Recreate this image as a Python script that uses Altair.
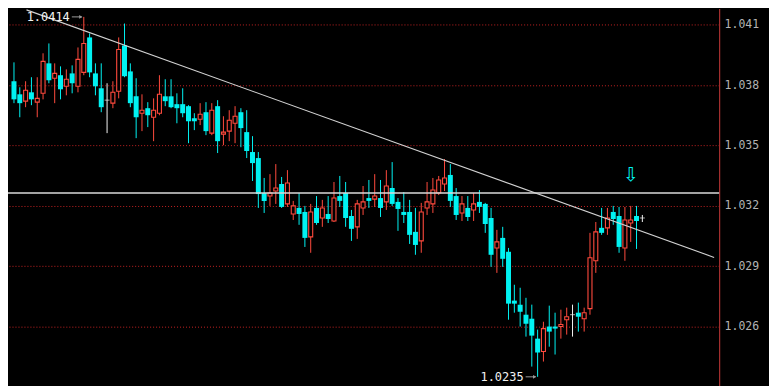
import altair as alt
import pandas as pd

# ---- candle data ----
opens = [1.03820, 1.03755, 1.03721, 1.03765, 1.03716, 1.03760, 1.03909, 1.03835, 1.03850, 1.03795,
         1.03859, 1.03795, 1.03864, 1.04038, 1.03859, 1.03785, 1.03726, 1.03711, 1.03770, 1.03998,
         1.03869, 1.03745, 1.03661, 1.03686, 1.03641, 1.03661, 1.03745, 1.03745, 1.03706, 1.03706,
         1.03696, 1.03636, 1.03631, 1.03666, 1.03562, 1.03696, 1.03557, 1.03572, 1.03611, 1.03666,
         1.03567, 1.03468, 1.03438, 1.03264, 1.03249, 1.03274, 1.03309, 1.03210, 1.03160, 1.03190,
         1.03170, 1.03046, 1.03190, 1.03140, 1.03160, 1.03125, 1.03249, 1.03264, 1.03150, 1.03096,
         1.03190, 1.03239, 1.03234, 1.03239, 1.03220, 1.03289, 1.03220, 1.03170, 1.03170, 1.03071,
         1.03026, 1.03190, 1.03210, 1.03264, 1.03309, 1.03354, 1.03249, 1.03165, 1.03190, 1.03180,
         1.03220, 1.03210, 1.03140, 1.02991, 1.03041, 1.02972, 1.02729, 1.02709, 1.02659, 1.02639,
         1.02540, 1.02476, 1.02600, 1.02600, 1.02600, 1.02634, 1.02659, 1.02669, 1.02639, 1.02689,
         1.02927, 1.03091, 1.03091, 1.03170, 1.03150, 1.02991, 1.03115, 1.03150, 1.03140]
highs = [1.03914, 1.03790, 1.03820, 1.03840, 1.03840, 1.03959, 1.04008, 1.03909, 1.03894, 1.03879,
         1.03899, 1.03988, 1.04140, 1.04058, 1.03909, 1.03909, 1.03810, 1.03820, 1.04038, 1.04107,
         1.03909, 1.03835, 1.03755, 1.03716, 1.03735, 1.03850, 1.03830, 1.03830, 1.03760, 1.03785,
         1.03701, 1.03661, 1.03711, 1.03716, 1.03711, 1.03726, 1.03646, 1.03676, 1.03696, 1.03686,
         1.03676, 1.03547, 1.03468, 1.03339, 1.03358, 1.03408, 1.03344, 1.03378, 1.03225, 1.03264,
         1.03200, 1.03210, 1.03249, 1.03230, 1.03249, 1.03319, 1.03349, 1.03319, 1.03180, 1.03230,
         1.03299, 1.03329, 1.03358, 1.03329, 1.03378, 1.03418, 1.03239, 1.03269, 1.03230, 1.03190,
         1.03215, 1.03319, 1.03339, 1.03349, 1.03433, 1.03408, 1.03289, 1.03249, 1.03249, 1.03264,
         1.03279, 1.03215, 1.03190, 1.03081, 1.03096, 1.02991, 1.02808, 1.02793, 1.02743, 1.02709,
         1.02585, 1.02624, 1.02704, 1.02669, 1.02684, 1.02694, 1.02709, 1.02719, 1.02694, 1.03066,
         1.03120, 1.03190, 1.03190, 1.03200, 1.03195, 1.03195, 1.03200, 1.03200, 1.03155]
lows = [1.03711, 1.03641, 1.03691, 1.03701, 1.03641, 1.03730, 1.03810, 1.03711, 1.03730, 1.03750,
        1.03760, 1.03765, 1.03850, 1.03840, 1.03750, 1.03666, 1.03562, 1.03686, 1.03735, 1.03840,
        1.03691, 1.03537, 1.03572, 1.03592, 1.03522, 1.03651, 1.03696, 1.03686, 1.03611, 1.03641,
        1.03512, 1.03577, 1.03602, 1.03552, 1.03552, 1.03463, 1.03502, 1.03522, 1.03512, 1.03492,
        1.03438, 1.03324, 1.03190, 1.03165, 1.03200, 1.03210, 1.03190, 1.03195, 1.03130, 1.03106,
        1.02996, 1.02967, 1.03106, 1.03096, 1.03115, 1.03120, 1.03195, 1.03096, 1.03026, 1.03036,
        1.03155, 1.03190, 1.03195, 1.03145, 1.03180, 1.03200, 1.03076, 1.03115, 1.03011, 1.02957,
        1.02967, 1.03155, 1.03165, 1.03254, 1.03274, 1.03195, 1.03130, 1.03125, 1.03125, 1.03125,
        1.03165, 1.03066, 1.02897, 1.02867, 1.02897, 1.02634, 1.02669, 1.02600, 1.02550, 1.02401,
        1.02350, 1.02426, 1.02500, 1.02461, 1.02540, 1.02560, 1.02550, 1.02575, 1.02575, 1.02659,
        1.02867, 1.03056, 1.03056, 1.03106, 1.02967, 1.02927, 1.03021, 1.02986, 1.03120]
closes = [1.03730, 1.03711, 1.03775, 1.03730, 1.03735, 1.03919, 1.03825, 1.03859, 1.03780, 1.03830,
          1.03810, 1.03929, 1.04008, 1.03864, 1.03795, 1.03691, 1.03726, 1.03765, 1.03978, 1.03845,
          1.03711, 1.03641, 1.03676, 1.03651, 1.03676, 1.03755, 1.03721, 1.03691, 1.03686, 1.03661,
          1.03621, 1.03621, 1.03656, 1.03572, 1.03676, 1.03522, 1.03567, 1.03626, 1.03646, 1.03587,
          1.03473, 1.03413, 1.03259, 1.03225, 1.03264, 1.03289, 1.03195, 1.03314, 1.03200, 1.03160,
          1.03041, 1.03170, 1.03115, 1.03190, 1.03135, 1.03239, 1.03225, 1.03140, 1.03086, 1.03210,
          1.03220, 1.03225, 1.03249, 1.03190, 1.03299, 1.03210, 1.03185, 1.03155, 1.03056, 1.03006,
          1.03170, 1.03220, 1.03279, 1.03329, 1.03339, 1.03225, 1.03155, 1.03210, 1.03145, 1.03210,
          1.03195, 1.03110, 1.02957, 1.03021, 1.02937, 1.02714, 1.02714, 1.02674, 1.02614, 1.02555,
          1.02471, 1.02590, 1.02575, 1.02590, 1.02610, 1.02649, 1.02659, 1.02649, 1.02669, 1.02942,
          1.03071, 1.03066, 1.03140, 1.03135, 1.02996, 1.03130, 1.03130, 1.03125, 1.03140]

tick_values = [1.026, 1.029, 1.032, 1.035, 1.038, 1.041]

# annotations
hi_label = ["1.0414"]
hi_index = [12]
hi_price = [1.0414]
lo_label = ["1.0235"]
lo_index = [90]
lo_price = [1.0235]
hline_price = [1.03264]
trend_x = [2.15]
trend_x2 = [120.34]
trend_y = [1.04175]
trend_y2 = [1.02944]
arrow_index = [106]
arrow_price = [1.03354]

RED = "#ff4a3d"
CYAN = "#00f2f2"
WHITE = "#f2f2f2"

n = len(opens)
df = pd.DataFrame({"i": list(range(n)), "open": opens, "high": highs, "low": lows, "close": closes})
df["dir"] = ["up" if c > o else ("down" if c < o else "doji") for o, c in zip(opens, closes)]

xs = alt.Scale(domain=[-0.169, 120.34], nice=False, zero=False)
ys = alt.Scale(domain=[1.023069, 1.041818], nice=False, zero=False)

yaxis = alt.Axis(
    orient="right", values=tick_values, format=".3f", title=None,
    grid=True, gridColor="#c42222", gridDash=[1, 2], gridWidth=1, gridOpacity=1,
    domain=True, domainColor="#a83030", domainWidth=1.2,
    ticks=False, labelColor="#b4b4b4", labelFont="DejaVu Sans Mono",
    labelFontSize=11.5, labelPadding=5, labelBaseline="middle")

X = lambda f: alt.X(f, scale=xs, axis=None)
Y = lambda f: alt.Y(f, scale=ys, axis=yaxis)

base = alt.Chart(df)

wicks = base.mark_rule(strokeWidth=1).encode(
    x=X("i:Q"),
    y=Y("low:Q"),
    y2="high:Q",
    color=alt.Color("dir:N", scale=alt.Scale(domain=["up", "down", "doji"], range=[RED, CYAN, WHITE]), legend=None),
)

up_bodies = base.transform_filter(alt.datum.dir == "up").mark_bar(
    size=4, fill="#000000", stroke=RED, strokeWidth=1.1).encode(
    x=X("i:Q"), y=Y("open:Q"), y2="close:Q")

down_bodies = base.transform_filter(alt.datum.dir == "down").mark_bar(
    size=5, color=CYAN).encode(
    x=X("i:Q"), y=Y("open:Q"), y2="close:Q")

doji_ticks = base.transform_filter(alt.datum.dir == "doji").mark_tick(
    orient="horizontal", size=5, thickness=1, color=WHITE).encode(
    x=X("i:Q"), y=Y("open:Q"))

hline = alt.Chart(pd.DataFrame({"p": hline_price})).mark_rule(
    color="#dadada", strokeWidth=1.4).encode(y=Y("p:Q"))

trend = alt.Chart(pd.DataFrame({"x": trend_x, "x2": trend_x2, "y": trend_y, "y2": trend_y2})).mark_rule(
    color="#d2d2d2", strokeWidth=1.1).encode(
    x=X("x:Q"), x2="x2:Q", y=Y("y:Q"), y2="y2:Q")

ann = pd.DataFrame({"label": hi_label + lo_label, "i": hi_index + lo_index, "p": hi_price + lo_price})
ann_text = alt.Chart(ann).mark_text(
    align="right", baseline="middle", dx=-14, font="DejaVu Sans Mono", fontSize=12, color=WHITE).encode(
    x=X("i:Q"), y=Y("p:Q"), text="label:N")
ann_line = alt.Chart(ann).mark_rule(
    color="#9a9a9a", strokeWidth=1, xOffset=-12, x2Offset=-2).encode(
    x=X("i:Q"), x2="i:Q", y=Y("p:Q"))
ann_head = alt.Chart(ann).mark_point(
    shape="triangle-right", filled=True, size=14, color="#9a9a9a", xOffset=-3, opacity=1).encode(
    x=X("i:Q"), y=Y("p:Q"))

down_arrow = alt.Chart(pd.DataFrame({"i": arrow_index, "p": arrow_price, "t": ["⇩"]})).mark_text(
    align="center", baseline="middle", font="DejaVu Sans", fontSize=19, color=CYAN).encode(
    x=X("i:Q"), y=Y("p:Q"), text="t:N")

chart = alt.layer(
    wicks, up_bodies, down_bodies, doji_ticks, hline, trend, ann_line, ann_head, ann_text, down_arrow
).properties(
    width=713, height=378,
    background="#000000",
    autosize=alt.AutoSizeParams(type="none"),
    padding={"left": 0, "top": 0, "right": 50, "bottom": 0},
).configure_view(stroke=None)

chart.save("out.html", embed_options={"renderer": "svg", "actions": False})
